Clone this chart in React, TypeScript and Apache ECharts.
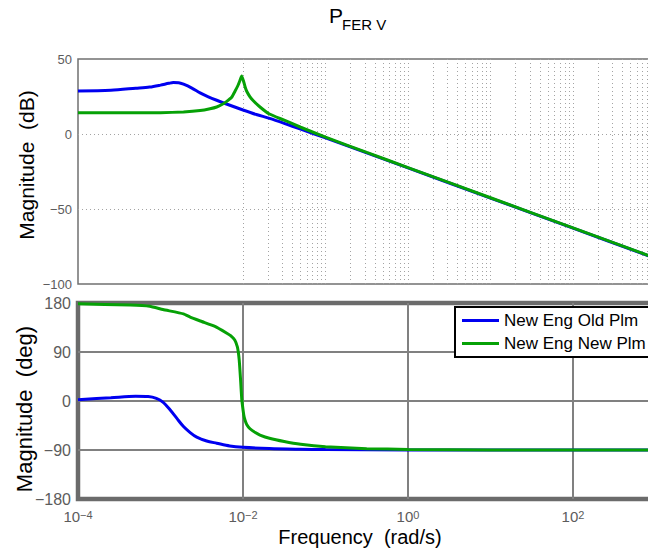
import React, { useEffect, useRef } from "react";
import * as echarts from "echarts";

// ---- data (frequency in rad/s) ----
const seriesNames = ["New Eng Old Plm", "New Eng New Plm"];

const magOldFreq = [1e-4, 2.5e-4, 5e-4, 7.4e-4, 1e-3, 1.26e-3, 1.43e-3, 1.66e-3, 1.9e-3, 2.4e-3, 3.02e-3, 3.8e-3, 4.8e-3, 6.3e-3, 1e-2, 1.45e-2, 2.1e-2, 3.16e-2, 5e-2, 0.1, 0.316, 1, 10, 100, 1000];
const magOldDb = [28.7, 29.2, 30.5, 31.3, 32.6, 33.8, 34.3, 34.2, 33.2, 30.6, 27.4, 24.8, 22.5, 20.0, 16.0, 13.0, 10.4, 7.1, 3.2, -2.6, -12.6, -22.6, -42.7, -62.8, -82.9];

const magNewFreq = [1e-4, 3.16e-4, 1e-3, 1.9e-3, 3.02e-3, 3.98e-3, 4.8e-3, 5.62e-3, 6.3e-3, 7.24e-3, 8.0e-3, 8.71e-3, 9.23e-3, 9.64e-3, 1.012e-2, 1.059e-2, 1.109e-2, 1.216e-2, 1.334e-2, 1.607e-2, 2.09e-2, 3.16e-2, 5e-2, 0.1, 0.316, 1, 10, 100, 1000];
const magNewDb = [14.1, 14.1, 14.2, 14.7, 15.6, 16.8, 18.0, 19.8, 21.6, 24.3, 28.5, 32.5, 36.0, 38.7, 35.5, 31.5, 28.5, 24.8, 22.2, 18.0, 13.3, 9.2, 4.5, -2.1, -12.3, -22.4, -42.5, -62.6, -82.7];

const phaseOldFreq = [1e-4, 2.5e-4, 5e-4, 7.1e-4, 8.9e-4, 1.07e-3, 1.32e-3, 1.58e-3, 1.9e-3, 2.29e-3, 2.75e-3, 3.63e-3, 4.8e-3, 6.9e-3, 1e-2, 2.09e-2, 5e-2, 0.1, 1, 1000];
const phaseOldDeg = [2.5, 6, 8.8, 8.3, 5, -2, -17, -32, -47, -58, -66.5, -73.5, -77.5, -82.5, -85, -87.3, -88.6, -89.3, -89.9, -90];

const phaseNewFreq = [1e-4, 4.3e-4, 7.4e-4, 1.07e-3, 1.9e-3, 2.29e-3, 3.16e-3, 4.57e-3, 6.3e-3, 7.08e-3, 7.94e-3, 8.53e-3, 8.77e-3, 9.0e-3, 9.2e-3, 9.38e-3, 9.64e-3, 9.9e-3, 1.023e-2, 1.057e-2, 1.109e-2, 1.216e-2, 1.41e-2, 1.607e-2, 2.09e-2, 3.16e-2, 5e-2, 0.1, 0.316, 1, 10, 1000];
const phaseNewDeg = [178.5, 176.3, 174, 168, 160, 154, 146, 137, 125, 120, 112, 100, 90, 75, 55, 35, 5, -10.5, -26, -35, -43, -51, -58, -62.5, -68.5, -74.5, -79.5, -84, -87.5, -89, -89.8, -90];

const magTickStep = 50;
const phaseTickStep = 90;
const phaseGridFreqs = [1e-2, 1, 1e2];

// ---- styling ----
const FONT = '"Liberation Sans", Arial, Helvetica, sans-serif';
const BLUE = "#0000f0";
const GREEN = "#06a106";
const TICK_COLOR = "#5c5c5c";
const DOT_COLOR = "#a3a3a3";

const zip = (f: number[], v: number[]) => f.map((x, i) => [x, v[i]]);
const minus = (v: number) => (v < 0 ? "\u2212" + Math.abs(v) : String(v));

// dotted log grid lines (1..9 x 10^k) for the magnitude panel
const logGridLines: number[] = [];
for (let k = -4; k <= 2; k++) {
  for (let m = 1; m <= 9; m++) {
    if (k === -4 && m === 1) continue;
    logGridLines.push(Number((m * Math.pow(10, k)).toPrecision(3)));
  }
}

export default function App() {
  const ref = useRef<HTMLDivElement>(null);

  useEffect(() => {
    if (!ref.current) return;
    const chart = echarts.init(ref.current, undefined, { renderer: "svg" });

    const option: any = {
      animation: false,
      textStyle: { fontFamily: FONT },
      grid: [
        { left: 78, top: 59, width: 577.5, height: 225, outerBoundsMode: "none", containLabel: false, show: true, borderColor: "#707070", borderWidth: 1.5, backgroundColor: "rgba(0,0,0,0)" },
        { left: 78, top: 303, width: 577.5, height: 196, outerBoundsMode: "none", containLabel: false, show: true, borderColor: "#6b6b6b", borderWidth: 4.5, backgroundColor: "rgba(0,0,0,0)" },
      ],
      xAxis: [
        {
          type: "log", logBase: 10, min: 1e-4, max: 1e3, gridIndex: 0,
          axisLine: { show: false }, axisTick: { show: false }, axisLabel: { show: false }, splitLine: { show: false },
        },
        {
          type: "log", logBase: 10, min: 1e-4, max: 1e3, gridIndex: 1,
          axisLine: { show: false }, axisTick: { show: false }, splitLine: { show: false },
          axisLabel: {
            margin: 10,
            color: TICK_COLOR,
            formatter: (v: number) => {
              const e = Math.round(Math.log10(v));
              if (e % 2 !== 0) return "";
              return "{b|10}{e|" + minus(e) + "}";
            },
            rich: {
              b: { fontSize: 15, lineHeight: 15, color: TICK_COLOR, fontFamily: FONT, verticalAlign: "bottom", padding: [4, 0, 0, 0] },
              e: { fontSize: 11, lineHeight: 11, color: TICK_COLOR, fontFamily: FONT, verticalAlign: "top" },
            },
          },
        },
      ],
      yAxis: [
        {
          type: "value", gridIndex: 0, min: -100, max: 50, interval: magTickStep,
          axisLine: { show: false }, axisTick: { show: false },
          axisLabel: { fontSize: 13, color: TICK_COLOR, margin: 6, formatter: minus },
          splitLine: { show: true, showMinLine: false, showMaxLine: false, lineStyle: { type: [1, 3], color: DOT_COLOR, width: 1 } },
        },
        {
          type: "value", gridIndex: 1, min: -180, max: 180, interval: phaseTickStep,
          axisLine: { show: false }, axisTick: { show: false },
          axisLabel: { fontSize: 16, color: TICK_COLOR, margin: 7, formatter: minus },
          splitLine: { show: true, showMinLine: false, showMaxLine: false, lineStyle: { type: "solid", color: "#808080", width: 2 } },
        },
      ],
      legend: {
        data: seriesNames,
        orient: "vertical",
        left: 455,
        top: 307,
        z: 50,
        zlevel: 0,
        icon: "rect",
        itemWidth: 37,
        itemHeight: 3,
        itemGap: 6,
        padding: [5, 12, 5, 7],
        backgroundColor: "#ffffff",
        borderColor: "#000000",
        borderWidth: 2,
        borderRadius: 0,
        textStyle: { fontSize: 17, lineHeight: 14, color: "#000", fontFamily: FONT },
      },
      series: [
        {
          type: "line", xAxisIndex: 0, yAxisIndex: 0, data: [], z: 1, silent: true,
          markLine: {
            silent: true, symbol: ["none", "none"], label: { show: false }, animation: false, z: 1,
            lineStyle: { type: [1, 3], color: DOT_COLOR, width: 1 },
            data: logGridLines.map((v) => ({ xAxis: v })),
          },
        },
        {
          type: "line", xAxisIndex: 1, yAxisIndex: 1, data: [], z: 1, silent: true,
          markLine: {
            silent: true, symbol: ["none", "none"], label: { show: false }, animation: false, z: 1,
            lineStyle: { type: "solid", color: "#808080", width: 2 },
            data: phaseGridFreqs.map((v) => ({ xAxis: v })),
          },
        },
        {
          name: seriesNames[0], type: "line", xAxisIndex: 0, yAxisIndex: 0, z: 3,
          data: zip(magOldFreq, magOldDb), symbol: "none", smooth: 0.3,
          lineStyle: { color: BLUE, width: 3 }, itemStyle: { color: BLUE },
        },
        {
          name: seriesNames[1], type: "line", xAxisIndex: 0, yAxisIndex: 0, z: 4,
          data: zip(magNewFreq, magNewDb), symbol: "none", smooth: 0.15,
          lineStyle: { color: GREEN, width: 3 }, itemStyle: { color: GREEN },
        },
        {
          name: seriesNames[0], type: "line", xAxisIndex: 1, yAxisIndex: 1, z: 3,
          data: zip(phaseOldFreq, phaseOldDeg), symbol: "none", smooth: 0.3,
          lineStyle: { color: BLUE, width: 3 }, itemStyle: { color: BLUE },
        },
        {
          name: seriesNames[1], type: "line", xAxisIndex: 1, yAxisIndex: 1, z: 4,
          data: zip(phaseNewFreq, phaseNewDeg), symbol: "none", smooth: 0.15,
          lineStyle: { color: GREEN, width: 3 }, itemStyle: { color: GREEN },
        },
      ],
      graphic: [
        { type: "text", x: 329, y: 15, style: { text: "P", font: "21px " + FONT, fill: "#000", align: "left", verticalAlign: "middle", textAlign: "left", textVerticalAlign: "middle" } },
        { type: "text", x: 342, y: 24.5, style: { text: "FER V", font: "15px " + FONT, fill: "#000", align: "left", verticalAlign: "middle", textAlign: "left", textVerticalAlign: "middle" } },
        { type: "text", x: 26, y: 165, rotation: Math.PI / 2, style: { text: "Magnitude  (dB)", font: "21px " + FONT, fill: "#000", align: "center", verticalAlign: "middle", textAlign: "center", textVerticalAlign: "middle" } },
        { type: "text", x: 24, y: 409, rotation: Math.PI / 2, style: { text: "Magnitude  (deg)", font: "22px " + FONT, fill: "#000", align: "center", verticalAlign: "middle", textAlign: "center", textVerticalAlign: "middle" } },
        { type: "text", x: 360, y: 537, style: { text: "Frequency  (rad/s)", font: "20px " + FONT, fill: "#000", align: "center", verticalAlign: "middle", textAlign: "center", textVerticalAlign: "middle" } },
      ],
    };

    chart.setOption(option);
    return () => chart.dispose();
  }, []);

  return (
    <div
      ref={ref}
      style={{ position: "absolute", left: 0, top: 0, width: 648, height: 558, background: "#fff", overflow: "hidden" }}
    />
  );
}
